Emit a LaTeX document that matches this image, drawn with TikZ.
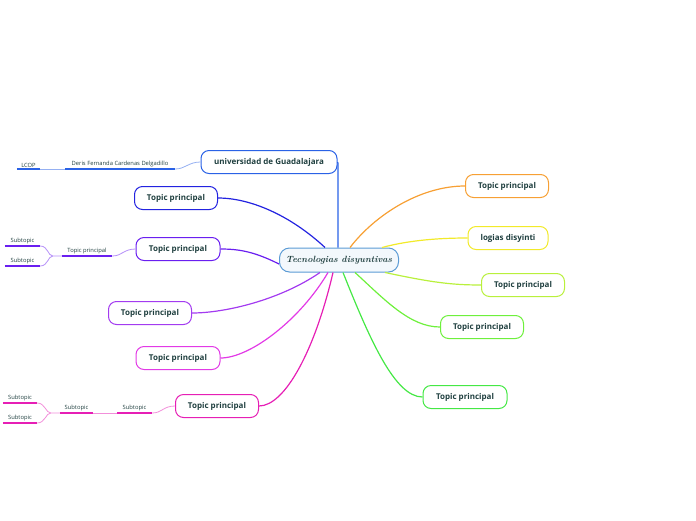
\documentclass[tikz,border=0pt]{standalone}
\usepackage{fontspec}
\setmainfont{Open Sans}
\usetikzlibrary{positioning,calc}
\definecolor{ink}{HTML}{1F3F3F}
\definecolor{rootline}{HTML}{5B9BD5}
\definecolor{rootfill}{HTML}{F3F8FC}
\definecolor{univblue}{HTML}{2A62E6}
\definecolor{deepblue}{HTML}{2323E0}
\definecolor{violet}{HTML}{6A1FF0}
\definecolor{purple}{HTML}{A33BF0}
\definecolor{magenta}{HTML}{E23AE6}
\definecolor{pink}{HTML}{E61FB5}
\definecolor{orange}{HTML}{F7A034}
\definecolor{yellow}{HTML}{F2EA2A}
\definecolor{lime}{HTML}{B9F03C}
\definecolor{green}{HTML}{6EF03C}
\definecolor{leaf}{HTML}{45E845}
\tikzset{
  topic/.style={draw=#1,line width=1pt,rounded corners=8pt,fill=white,text=ink,
    minimum width=83pt,minimum height=23pt,inner sep=2pt,font=\fontsize{8}{9}\selectfont\bfseries},
  subtopic/.style={text=ink,inner sep=1.5pt,font=\fontsize{5.8}{7}\selectfont},
  branch/.style={draw=#1,line width=1.2pt},
  underline/.style={draw=#1,line width=1.5pt},
  twig/.style={draw=#1,line width=0.8pt}
}
\begin{document}
\begin{tikzpicture}[x=1pt,y=-1pt]
\useasboundingbox (0,0) rectangle (696,520);
% central topic
\node[draw=rootline,line width=1pt,rounded corners=10pt,fill=rootfill,text=ink,minimum width=119pt,minimum height=24pt,font=\fontsize{9}{10}\selectfont\bfseries\itshape\rmfamily] (root) at (339,260) {\fontspec{Latin Modern Roman}\bfseries\itshape Tecnologias disyuntivas};
% left side
\node[topic=univblue,minimum width=136pt] (univ) at (269,162) {universidad de Guadalajara};
\node[topic=deepblue] (tA) at (176,198) {Topic principal};
\node[topic=violet,minimum width=84pt] (tB) at (178,249) {Topic principal};
\node[topic=purple] (tC) at (150,313) {Topic principal};
\node[topic=magenta,minimum width=84pt] (tD) at (178,358) {Topic principal};
\node[topic=pink] (tE) at (217,406) {Topic principal};
% right side
\node[topic=orange] (rA) at (507,186) {Topic principal};
\node[topic=yellow,minimum width=80pt] (rB) at (508,238) {logias disyinti};
\node[topic=lime] (rC) at (523,285) {Topic principal};
\node[topic=green] (rD) at (482,327) {Topic principal};
\node[topic=leaf,minimum width=84pt] (rE) at (465,397) {Topic principal};
% subtopics
\node[subtopic,minimum width=110pt,anchor=south] (deris) at (120,169) {Deris Fernanda Cardenas Delgadillo};
\node[subtopic,minimum width=23pt,anchor=south] (lcop) at (28.5,169) {LCOP};
\node[subtopic,minimum width=50pt,anchor=south] (tBsub) at (87,256) {Topic principal};
\node[subtopic,minimum width=35pt,anchor=south] (tBa) at (22.5,246) {Subtopic};
\node[subtopic,minimum width=35pt,anchor=south] (tBb) at (22.5,266) {Subtopic};
\node[subtopic,minimum width=35pt,anchor=south] (tEsub) at (134.5,413) {Subtopic};
\node[subtopic,minimum width=33pt,anchor=south] (tEsubsub) at (76.5,413) {Subtopic};
\node[subtopic,minimum width=34pt,anchor=south] (tEa) at (20,403) {Subtopic};
\node[subtopic,minimum width=34pt,anchor=south] (tEb) at (20,423) {Subtopic};
% main branches
\coordinate (rootup) at ([xshift=-1pt]root.north);
\draw[branch=univblue] (rootup) -- ([yshift=-8pt]rootup |- univ.east) .. controls (rootup |- univ.east) .. (univ.east);
\draw[branch=deepblue] ([xshift=-14pt]root.north) .. controls (290,215) and (250,198) .. (tA.east);
\draw[branch=violet] ([yshift=-4pt]root.west) .. controls (255,252) and (240,249) .. (tB.east);
\draw[branch=purple] ([xshift=-19pt]root.south) .. controls (280,300) and (225,313) .. (tC.east);
\draw[branch=magenta] ([xshift=-11pt]root.south) .. controls (300,320) and (250,358) .. (tD.east);
\draw[branch=pink] ([xshift=-6pt]root.south) .. controls (315,350) and (285,406) .. (tE.east);
\draw[branch=orange] ([xshift=11pt]root.north) .. controls (375,215) and (420,186) .. (rA.west);
\draw[branch=yellow] ([xshift=43pt]root.north) .. controls (410,240) and (440,238) .. (rB.west);
\draw[branch=lime] ([xshift=46pt]root.south) .. controls (430,282) and (450,285) .. (rC.west);
\draw[branch=green] ([xshift=16pt]root.south) .. controls (385,300) and (410,327) .. (rD.west);
\draw[branch=leaf] ([xshift=4pt]root.south) .. controls (370,340) and (395,397) .. (rE.west);
% subtopic lines
\foreach \n/\c in {deris/univblue,lcop/univblue,tBsub/violet,tBa/violet,tBb/violet,tEsub/pink,tEsubsub/pink,tEa/pink,tEb/pink}
  \draw[underline=\c] (\n.south west) -- (\n.south east);
\draw[twig=univblue!50] (deris.south east) .. controls +(10,0) and +(-12,0) .. (univ.west);
\draw[twig=univblue!50] (lcop.south east) -- (deris.south west);
\draw[twig=violet!50] (tBsub.south east) .. controls +(10,0) and +(-12,0) .. (tB.west);
\draw[twig=violet!50] (tBa.south east) .. controls +(8,0) and +(-5,0) .. ([xshift=-9pt]tBsub.south west) -- (tBsub.south west);
\draw[twig=violet!50] (tBb.south east) .. controls +(8,0) and +(-5,0) .. ([xshift=-9pt]tBsub.south west);
\draw[twig=pink!50] (tEsub.south east) .. controls +(10,0) and +(-12,0) .. (tE.west);
\draw[twig=pink!50] (tEsubsub.south east) -- (tEsub.south west);
\draw[twig=pink!50] (tEa.south east) .. controls +(8,0) and +(-5,0) .. ([xshift=-9pt]tEsubsub.south west) -- (tEsubsub.south west);
\draw[twig=pink!50] (tEb.south east) .. controls +(8,0) and +(-5,0) .. ([xshift=-9pt]tEsubsub.south west);
\end{tikzpicture}
\end{document}
